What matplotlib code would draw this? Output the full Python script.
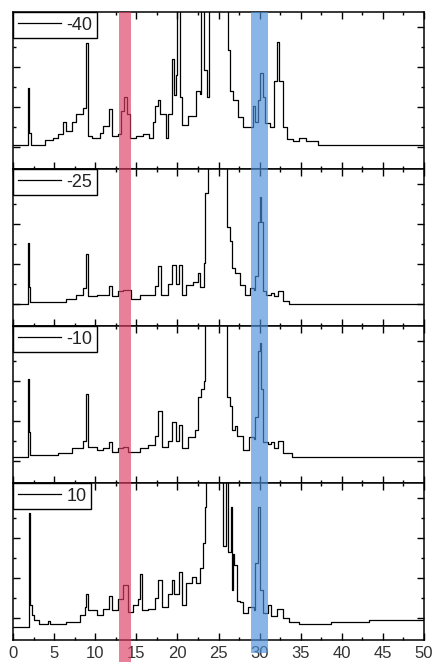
import matplotlib
matplotlib.use("Agg")
import matplotlib.pyplot as plt
from matplotlib.patches import Rectangle
from matplotlib.ticker import MultipleLocator, FixedLocator
import matplotlib.transforms as mtransforms

plt.rcParams['font.family'] = ['Liberation Sans', 'DejaVu Sans']

labels = ['-40', '-25', '-10', '10']

trace_m40 = [(0, 0.154), (1.7, 0.154), (1.86, 0.517), (2.0, 0.23), (2.2, 0.15), (3.0, 0.15), (3.9, 0.185),
             (4.9, 0.2), (5.5, 0.22), (6.1, 0.30), (6.5, 0.24), (7.2, 0.30), (7.7, 0.35), (8.5, 0.39),
             (8.9, 0.80), (9.1, 0.21), (9.6, 0.2), (10.2, 0.2), (10.6, 0.23), (11.0, 0.275), (11.7, 0.38),
             (12.0, 0.21), (12.8, 0.22), (13.1, 0.37), (13.5, 0.46), (13.9, 0.35), (14.2, 0.2), (15.0, 0.21),
             (15.8, 0.22), (16.6, 0.2), (17.0, 0.3), (17.3, 0.40), (17.7, 0.44), (17.9, 0.35), (18.6, 0.2),
             (18.9, 0.35), (19.3, 0.70), (19.6, 0.47), (19.8, 0.6), (20.0, 1.3), (20.3, 0.46), (20.6, 0.28),
             (21.3, 0.34), (21.9, 0.34), (22.3, 0.5), (22.7, 0.48), (22.9, 1.3), (23.2, 0.63), (23.6, 0.46),
             (23.9, 1.3), (26.2, 0.755), (26.4, 0.5), (26.8, 0.44), (27.4, 0.33), (28.0, 0.27), (28.6, 0.27),
             (29.2, 0.40), (29.5, 0.3), (29.8, 0.44), (30.1, 0.61), (30.4, 0.46), (30.7, 0.29), (31.3, 0.27),
             (31.8, 0.56), (32.1, 0.81), (32.4, 0.56), (32.8, 0.27), (33.3, 0.19), (34.1, 0.18), (34.8, 0.20),
             (35.7, 0.18), (37.1, 0.154), (50, 0.154)]

trace_m25 = [(0, 0.14), (1.7, 0.14), (1.86, 0.53), (1.95, 0.25), (2.1, 0.155), (4.1, 0.155), (5.5, 0.15),
             (6.5, 0.175), (7.7, 0.20), (8.5, 0.24), (8.9, 0.46), (9.1, 0.19), (10.2, 0.2), (11.0, 0.2),
             (11.7, 0.255), (12.0, 0.19), (12.8, 0.22), (13.4, 0.23), (13.9, 0.23), (14.4, 0.175), (15.4, 0.2),
             (16.4, 0.2), (17.3, 0.255), (17.7, 0.38), (18.0, 0.2), (18.9, 0.27), (19.3, 0.39), (19.8, 0.27),
             (20.2, 0.39), (20.5, 0.2), (21.1, 0.26), (21.9, 0.28), (22.5, 0.34), (22.8, 0.25), (23.2, 0.40),
             (23.4, 0.85), (23.7, 1.3), (26.0, 0.63), (26.4, 0.54), (26.6, 0.37), (27.0, 0.34), (27.6, 0.26),
             (28.2, 0.20), (28.8, 0.24), (29.3, 0.23), (29.5, 0.32), (29.8, 0.66), (30.0, 0.82), (30.2, 0.66),
             (30.4, 0.22), (30.8, 0.2), (31.4, 0.21), (31.8, 0.19), (32.2, 0.22), (32.8, 0.16), (33.6, 0.14),
             (50, 0.14)]

trace_m10 = [(0, 0.166), (1.75, 0.166), (1.86, 0.66), (1.95, 0.325), (2.05, 0.177), (4.1, 0.177), (5.5, 0.19),
             (7.2, 0.225), (8.5, 0.27), (8.9, 0.57), (9.1, 0.23), (10.2, 0.21), (11.0, 0.22), (11.7, 0.26),
             (12.0, 0.20), (12.8, 0.22), (13.4, 0.23), (14.0, 0.20), (15.4, 0.225), (16.4, 0.24), (17.3, 0.30),
             (17.7, 0.46), (18.1, 0.23), (18.9, 0.27), (19.4, 0.39), (19.8, 0.27), (20.2, 0.37), (20.5, 0.22),
             (21.3, 0.29), (22.1, 0.34), (22.5, 0.55), (22.9, 0.60), (23.2, 0.65), (23.4, 1.3), (26.0, 0.55),
             (26.4, 0.49), (26.6, 0.335), (27.0, 0.36), (27.3, 0.30), (28.0, 0.21), (28.7, 0.29), (29.3, 0.28),
             (29.5, 0.42), (29.8, 0.84), (30.0, 0.89), (30.2, 0.6), (30.4, 0.26), (31.0, 0.25), (31.4, 0.26),
             (31.8, 0.22), (32.2, 0.27), (32.8, 0.19), (34.0, 0.166), (50, 0.166)]

trace_p10 = [(0, 0.085), (1.8, 0.085), (1.9, 0.81), (2.1, 0.22), (2.3, 0.16), (2.5, 0.13), (3.2, 0.105),
             (4.2, 0.12), (4.5, 0.105), (4.9, 0.10), (6.5, 0.115), (8.1, 0.16), (8.8, 0.21), (8.9, 0.29),
             (9.1, 0.19), (10.2, 0.16), (11.0, 0.20), (11.7, 0.28), (12.0, 0.19), (12.8, 0.26), (13.4, 0.35),
             (13.7, 0.35), (14.0, 0.18), (14.6, 0.22), (15.2, 0.26), (15.4, 0.42), (15.7, 0.19), (16.4, 0.20),
             (17.3, 0.27), (17.7, 0.385), (18.1, 0.21), (18.9, 0.29), (19.3, 0.385), (19.6, 0.29), (20.2, 0.43),
             (20.5, 0.22), (21.1, 0.36), (21.8, 0.40), (22.3, 0.36), (22.7, 0.46), (23.1, 0.62), (23.3, 0.85),
             (23.5, 1.3), (25.6, 0.6), (25.9, 1.3), (26.1, 0.56), (26.5, 0.85), (26.6, 0.32), (26.8, 0.55),
             (26.9, 0.48), (27.2, 0.25), (27.6, 0.24), (28.0, 0.17), (28.6, 0.21), (29.3, 0.19), (29.5, 0.49),
             (29.8, 0.85), (30.1, 0.32), (30.4, 0.17), (31.0, 0.22), (31.4, 0.15), (32.1, 0.20), (32.8, 0.14),
             (33.6, 0.117), (34.8, 0.105), (38.7, 0.117), (43.3, 0.13), (50, 0.13)]

traces = [trace_m40, trace_m25, trace_m10, trace_p10]

x_ticks = [0, 5, 10, 15, 20, 25, 30, 35, 40, 45, 50]
bands = [(12.9, 14.3, '#dc3c64'), (29.0, 31.0, '#4a90d9')]

W, H = 438, 665
fig = plt.figure(figsize=(W / 100, H / 100), dpi=100)

left_px, right_px = 13, 424
top_px, bot_px = 12, 640
n = len(traces)
ph = (bot_px - top_px) / n
axes = []
for i, (tr, lab) in enumerate(zip(traces, labels)):
    y0 = bot_px - (n - i) * ph + 0  # bottom pixel of panel from top
    ax = fig.add_axes([left_px / W, 1 - (top_px + (i + 1) * ph) / H, (right_px - left_px) / W, ph / H])
    xs = [p[0] for p in tr]
    ys = [p[1] for p in tr]
    line, = ax.plot(xs, ys, color='black', lw=0.9, drawstyle='steps-post')
    ax.set_xlim(0, 50)
    ax.set_ylim(0, 1)
    ax.xaxis.set_major_locator(FixedLocator(x_ticks))
    ax.xaxis.set_minor_locator(MultipleLocator(2.5))
    ax.yaxis.set_major_locator(FixedLocator([0.14, 0.394, 0.648, 0.902]))
    ax.yaxis.set_minor_locator(FixedLocator([0.267, 0.521, 0.775]))
    ax.tick_params(which='both', direction='in', top=True, right=True, width=1.0)
    ax.tick_params(which='major', length=5)
    ax.tick_params(which='minor', length=2.5)
    ax.set_yticklabels([])
    if i < n - 1:
        ax.set_xticklabels([])
    else:
        ax.tick_params(axis='x', labelsize=12, labelcolor='#333333', pad=4)
    for s in ax.spines.values():
        s.set_linewidth(1.1)
    leg = ax.legend([line], [lab], loc='upper left', bbox_to_anchor=(0, 1), borderaxespad=0,
                    frameon=True, fancybox=False, edgecolor='black', framealpha=1,
                    handlelength=2.4, handletextpad=0.3, borderpad=0.25,
                    prop={'size': 13})
    leg.get_frame().set_linewidth(1.0)
    for t in leg.get_texts():
        t.set_color('#222222')
    axes.append(ax)

trans = mtransforms.blended_transform_factory(axes[-1].transData, fig.transFigure)
band_bottoms = [662, 653]
for (x0, x1, c), bb in zip(bands, band_bottoms):
    y_top = 1 - top_px / H
    y_bot = 1 - bb / H
    r = Rectangle((x0, y_bot), x1 - x0, y_top - y_bot, transform=trans, facecolor=c,
                  alpha=0.65, edgecolor='none', clip_on=False, zorder=10)
    fig.add_artist(r)

fig.savefig('out.png', dpi=100)
